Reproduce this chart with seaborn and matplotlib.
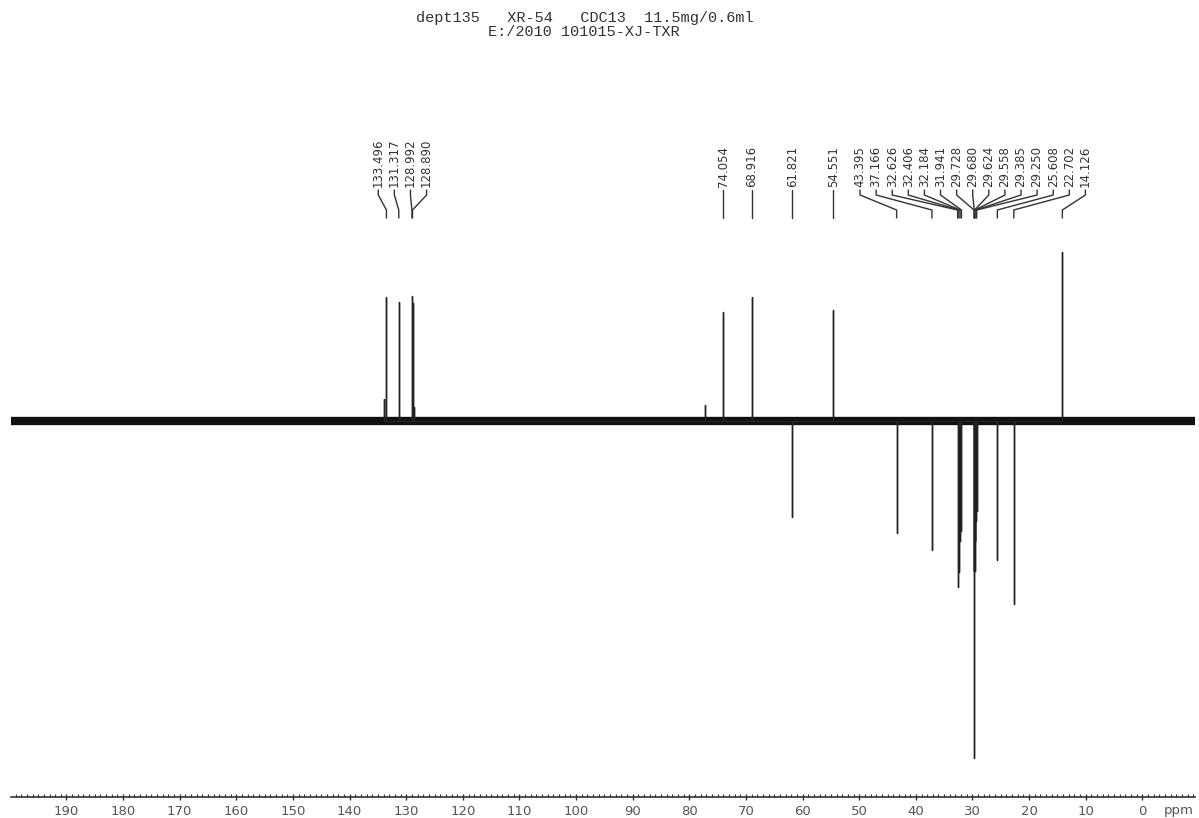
import numpy as np
import pandas as pd
import matplotlib.pyplot as plt
import seaborn as sns
from matplotlib.ticker import MultipleLocator

# Header text of the spectrum
title_line1 = "dept135   XR-54   CDC13  11.5mg/0.6ml"
title_line2 = "E:/2010 101015-XJ-TXR"

# Labelled DEPT-135 signals (ppm) and their intensity (CH/CH3 up, CH2 down)
peak_ppm = [133.496, 131.317, 128.992, 128.890, 74.054, 68.916, 61.821, 54.551,
            43.395, 37.166, 32.626, 32.406, 32.184, 31.941, 29.728, 29.680,
            29.624, 29.558, 29.385, 29.250, 25.608, 22.702, 14.126]
peak_height = [124, 119, 125, 118, 109, 124, -96, 111,
               -112, -129, -166, -151, -120, -110, -150, -337,
               -150, -120, -100, -90, -139, -183, 169]

# Small unlabelled signals (impurity / CDCl3 residue)
minor_ppm = [134.0, 128.6, 77.2]
minor_height = [22, 14, 16]

# Build the stick spectrum trace
all_ppm = peak_ppm + minor_ppm
all_height = peak_height + minor_height
order = np.argsort(all_ppm)[::-1]
rows = []
for i in order:
    rows += [(all_ppm[i], 0), (all_ppm[i], all_height[i]), (all_ppm[i], 0)]
trace = pd.DataFrame(rows, columns=["ppm", "intensity"])

sns.set_theme(style="white")
plt.rcParams["font.family"] = ["DejaVu Sans"]

fig = plt.figure(figsize=(11.99, 8.18), dpi=100)
ax = fig.add_axes([11 / 1199, 1 - 797 / 818, 1184 / 1199, 797 / 818])

# noisy baseline band
ax.axhline(0, color="#111111", lw=6, zorder=1)
sns.lineplot(data=trace, x="ppm", y="intensity", sort=False, estimator=None,
             color="#222222", lw=1.0, ax=ax, zorder=2)

ax.set_xlim(199.8, -9.3)
ax.set_ylim(-376, 421)
ax.set_xticks(range(190, -1, -10))
ax.xaxis.set_minor_locator(MultipleLocator(1))
ax.tick_params(axis="x", which="major", direction="inout", length=5, width=1,
               color="#333333", labelsize=9.5, labelcolor="#555555", pad=3)
ax.tick_params(axis="x", which="minor", direction="in", length=2.5, width=0.8,
               color="#333333", bottom=True)
ax.tick_params(axis="x", which="major", bottom=True)
ax.set_yticks([])
ax.set_xlabel("")
ax.set_ylabel("")
for side in ["left", "top", "right"]:
    ax.spines[side].set_visible(False)
ax.spines["bottom"].set_color("#333333")
ax.spines["bottom"].set_linewidth(1.2)

ax.text(-6.4, -0.0165, "ppm", transform=ax.get_xaxis_transform(),
        ha="center", va="center", fontsize=9.5, color="#555555")

# Spread peak labels so they do not overlap
gap = 16.1 / 5.663
pos = sorted(peak_ppm, reverse=True)
clusters = [[p] for p in pos]


def place(cl):
    c = np.mean(cl)
    k = len(cl)
    return [c + (k - 1) / 2 * gap - j * gap for j in range(k)]


merged = True
while merged:
    merged = False
    for j in range(len(clusters) - 1):
        a = place(clusters[j])
        b = place(clusters[j + 1])
        if a[-1] - b[0] < gap:
            clusters[j] = clusters[j] + clusters[j + 1]
            del clusters[j + 1]
            merged = True
            break

label_x = []
for cl in clusters:
    label_x += place(cl)

for p, lx in zip(pos, label_x):
    ax.text(lx, 234, f"{p:.3f}", rotation=90, ha="center", va="bottom",
            fontsize=8.5, color="#333333")
    ax.plot([lx, lx, p, p], [231, 226, 211, 203], color="#333333", lw=1.0)

fig.text(585 / 1199, 1 - 18 / 818, title_line1, ha="center", va="center",
         family="Liberation Mono", fontsize=11, color="#333333")
fig.text(584 / 1199, 1 - 32 / 818, title_line2, ha="center", va="center",
         family="Liberation Mono", fontsize=11, color="#333333")

fig.savefig("out.png", dpi=100)
